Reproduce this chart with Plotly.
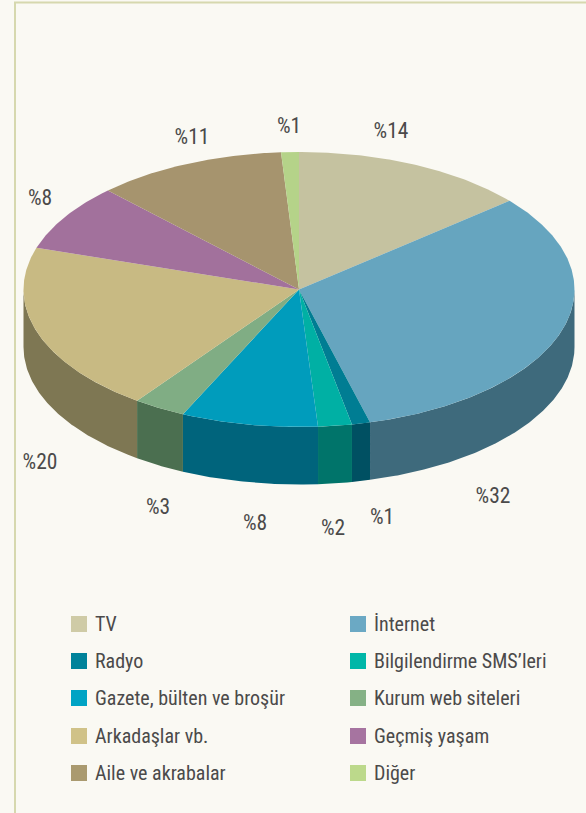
import numpy as np
import plotly.graph_objects as go

# ---- data ----
categories = ["TV", "İnternet", "Radyo", "Bilgilendirme SMS’leri", "Gazete, bülten ve broşür",
              "Kurum web siteleri", "Arkadaşlar vb.", "Geçmiş yaşam", "Aile ve akrabalar", "Diğer"]
values = [13.85, 32, 1.07, 1.98, 8.02, 3.08, 19.9, 7.9, 11.16, 1.04]
value_labels = ["%14", "%32", "%1", "%2", "%8", "%3", "%20", "%8", "%11", "%1"]

# ---- styles ----
top_colors = ["#c5c2a0", "#66a5bf", "#007d93", "#00b0a4", "#009cbc",
              "#80ad84", "#c8ba83", "#a2719c", "#a6946e", "#b5d389"]
side_colors = ["#8a8870", "#3e6a7c", "#005062", "#00746a", "#00647c",
               "#4b6f50", "#7e7753", "#6f4d6b", "#75684d", "#7e9360"]
legend_colors = ["#cfcba6", "#6ba9c4", "#00829a", "#00b7a8", "#00a3c4",
                 "#85b185", "#d0c288", "#a674a0", "#aa9a6f", "#bcd98b"]
BG = "#faf9f3"
TEXT = "#4b4a4a"
FONT = "Roboto Condensed, Liberation Sans, sans-serif"

# ---- layout geometry (pixels) ----
CX, CY, RX, RY, DEPTH = 299, 289.5, 275.5, 137.5, 57.5
label_x = [391, 493, 382, 333, 255, 158, 40, 40, 192, 289]
label_y = [133, 498, 519, 530, 525, 509, 464, 200, 139, 128]
legend_col_x = [71, 350]
legend_row_y = [624, 661, 698, 736, 773]

fracs = np.cumsum([0] + values) / sum(values)
fig = go.Figure()


def arc(a0, a1, dy=0.0, step=0.5):
    n = max(2, int(abs(a1 - a0) / step) + 1)
    t = np.radians(np.linspace(a0, a1, n))
    return CX + RX * np.sin(t), CY - RY * np.cos(t) + dy


# side walls: only the front half of the rim (90..270 degrees clockwise from top)
for i in range(len(values)):
    a0, a1 = fracs[i] * 360, fracs[i + 1] * 360
    lo, hi = max(a0, 90), min(a1, 270)
    if lo < hi:
        x1, y1 = arc(lo, hi)
        x2, y2 = arc(hi, lo, DEPTH)
        fig.add_trace(go.Scatter(x=np.r_[x1, x2], y=np.r_[y1, y2], mode="lines", fill="toself",
                                 fillcolor=side_colors[i], line=dict(width=0, color=side_colors[i]),
                                 hoverinfo="skip", showlegend=False))

# top face
for i in range(len(values)):
    a0, a1 = fracs[i] * 360, fracs[i + 1] * 360
    x1, y1 = arc(a0, a1)
    fig.add_trace(go.Scatter(x=np.r_[CX, x1, CX], y=np.r_[CY, y1, CY], mode="lines", fill="toself",
                             fillcolor=top_colors[i], line=dict(width=0, color=top_colors[i]),
                             name=categories[i], hoverinfo="name", showlegend=False))

# value labels
fig.add_trace(go.Scatter(x=label_x, y=label_y, mode="text", text=value_labels,
                         textposition="middle center",
                         textfont=dict(family=FONT, size=21.5, color=TEXT),
                         hoverinfo="skip", showlegend=False))

# legend swatches + text
for i, name in enumerate(categories):
    col, row = i % 2, i // 2
    fig.add_trace(go.Scatter(x=[legend_col_x[col] + 8], y=[legend_row_y[row]], mode="markers",
                             marker=dict(symbol="square", size=16, color=legend_colors[i], line=dict(width=0)),
                             hoverinfo="skip", showlegend=False))
    fig.add_annotation(x=legend_col_x[col] + 22, y=legend_row_y[row], text=name, showarrow=False,
                       xanchor="left", yanchor="middle", font=dict(family=FONT, size=20, color=TEXT))

fig.update_layout(
    width=586, height=813, autosize=False,
    margin=dict(l=0, r=0, t=0, b=0),
    paper_bgcolor=BG, plot_bgcolor=BG,
    xaxis=dict(range=[0, 586], visible=False, fixedrange=True),
    yaxis=dict(range=[813, 0], visible=False, fixedrange=True),
    shapes=[
        dict(type="line", x0=15, x1=15, y0=2, y1=813, line=dict(color="#d6d8ae", width=2)),
        dict(type="line", x0=14, x1=586, y0=2.5, y1=2.5, line=dict(color="#d6d8ae", width=2)),
    ],
)
fig.write_html("out.html", config={"displayModeBar": False},
               post_script="document.body.style.margin='0';document.body.style.background='%s';" % BG)
